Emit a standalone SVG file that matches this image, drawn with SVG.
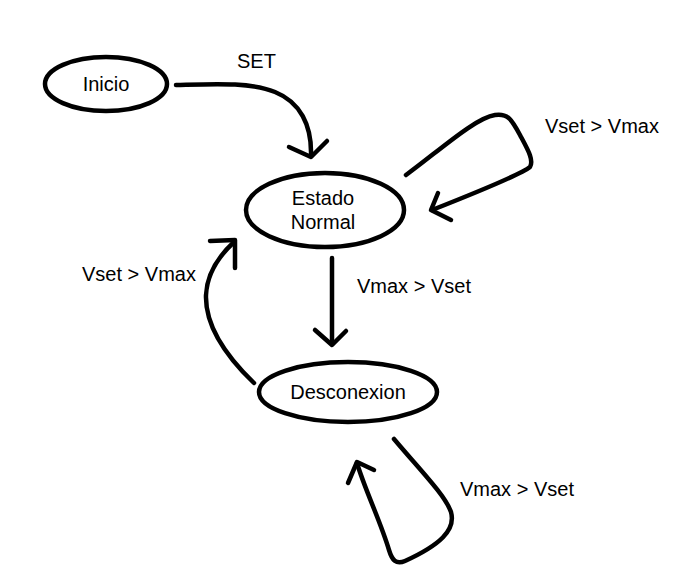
<svg xmlns="http://www.w3.org/2000/svg" width="695" height="582" viewBox="0 0 695 582">
<style>
.n{fill:none;stroke:#000;stroke-width:4.5}
.c{fill:none;stroke:#000;stroke-width:4.5;stroke-linecap:round;stroke-linejoin:round}
text{font-family:"Liberation Sans",Arial,sans-serif;font-size:20px;fill:#000}
.m{text-anchor:middle}
</style>
<rect width="695" height="582" fill="#fff"/>
<g id="inicio">
<ellipse class="n" cx="106" cy="84" rx="61" ry="27"/>
<text class="m" x="106" y="91">Inicio</text>
</g>
<g id="estado-normal">
<ellipse class="n" cx="325" cy="210" rx="79" ry="37"/>
<text class="m" x="323" y="205">Estado</text>
<text class="m" x="323" y="229">Normal</text>
</g>
<g id="desconexion">
<ellipse class="n" cx="348" cy="392" rx="89" ry="30"/>
<text class="m" x="348" y="399">Desconexion</text>
</g>
<g id="connectors">
<path class="c" d="M176 85 C 215 84 250 82 275 92 C 300 102 312 125 311 156"/>
<path class="c" d="M289 147 L311 157 L327 141"/>
<text x="237" y="68">SET</text>
<path class="c" d="M406 175 C 440 150 475 118 495 115 C 508 113 512 120 520 135 C 528 150 534 160 530 167 C 520 175 470 195 432 210"/>
<path class="c" d="M438 193 L431 210 L451 220"/>
<text x="545" y="133">Vset &gt; Vmax</text>
<path class="c" d="M332 258 L332 344"/>
<path class="c" d="M315 330 L332 345 L346 331"/>
<text x="357" y="293">Vmax &gt; Vset</text>
<path class="c" d="M254 383 C 225 355 205 325 206 295 C 207 272 220 255 234 242"/>
<path class="c" d="M210 241 L235 240 L235 268"/>
<text x="82" y="281">Vset &gt; Vmax</text>
<path class="c" d="M394 439 C 420 470 445 495 451 512 C 456 530 440 545 405 561 C 396 565 392 560 389 550 C 380 520 365 490 357 463"/>
<path class="c" d="M348 483 L357 462 L374 470"/>
<text x="460" y="496">Vmax &gt; Vset</text>
</g>
</svg>
